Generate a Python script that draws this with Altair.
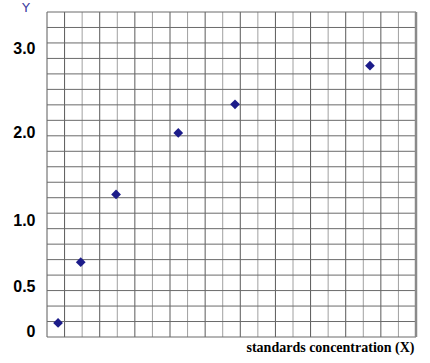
import altair as alt
import pandas as pd

# Data
conc = [0.63, 1.92, 3.93, 7.47, 10.7, 18.38]          # x, grid units
absorb = [0.09, 0.68, 1.29, 1.99, 2.33, 2.79]         # y
y_ticks = [0, 0.5, 1.0, 2.0, 3.0]
grid_lines = list(range(0, 22))

W, H = 369, 325
# the printed y labels are not evenly spaced: piecewise scale through them
y_tick_px = [319, 274, 208, 120, 36]

pts = pd.DataFrame({"x": conc, "y": absorb})
grid = pd.DataFrame({"g": grid_lines})

x_scale = alt.Scale(domain=[0, 21], nice=False, zero=False)
x_axis = alt.Axis(title="standards concentration (X)", labels=False, ticks=False, domain=False,
                  grid=False, titleFont="Liberation Serif", titleFontWeight="bold",
                  titleFontSize=14, titleColor="#000000", titleX=367, titleY=14.5,
                  titleAlign="right", titleBaseline="alphabetic", titleAnchor="end")

vrules = alt.Chart(grid).mark_rule(strokeWidth=1).encode(
    x=alt.X("g:Q", scale=x_scale, axis=x_axis),
    color=alt.condition("datum.g % 2 == 1 || datum.g == 0", alt.value("#5a5a5a"), alt.value("#a0a0a0")),
)
hrules = alt.Chart(grid).mark_rule(strokeWidth=1, color="#6a6a6a").encode(
    y=alt.Y("g:Q", scale=alt.Scale(domain=[0, 21], nice=False, zero=False), axis=None),
)
right_border = alt.Chart(pd.DataFrame({"g": [21]})).mark_rule(strokeWidth=2.5, color="#8a8a8a").encode(
    x=alt.X("g:Q", scale=x_scale, axis=x_axis),
)

points = alt.Chart(pts).mark_point(shape="diamond", filled=True, size=95, color="#1c1c8a", opacity=1).encode(
    x=alt.X("x:Q", scale=x_scale, axis=x_axis),
    y=alt.Y("y:Q", scale=alt.Scale(domain=y_ticks, range=y_tick_px, nice=False, zero=False),
            axis=alt.Axis(title="Y", values=y_ticks, ticks=False, domain=False, grid=False,
                          labelExpr="datum.value == 0 ? '0' : format(datum.value, '.1f')",
                          labelFont="Liberation Sans", labelFontWeight="bold", labelFontSize=16,
                          labelColor="#000000", labelPadding=12, labelBaseline="middle",
                          titleAngle=0, titleX=-21.5, titleY=-1, titleAlign="center",
                          titleBaseline="alphabetic", titleFont="DejaVu Sans", titleFontSize=13,
                          titleFontWeight="normal", titleColor="#3a3aa0")),
)

chart = alt.layer(vrules, hrules, right_border, points).resolve_scale(y="independent").properties(
    width=W, height=H,
    autosize=alt.AutoSizeParams(type="none"),
    padding={"left": 47, "top": 12, "right": 14, "bottom": 26},
    background="white",
).configure_view(stroke=None)

chart.save("out.html", embed_options={"renderer": "svg", "actions": False})
